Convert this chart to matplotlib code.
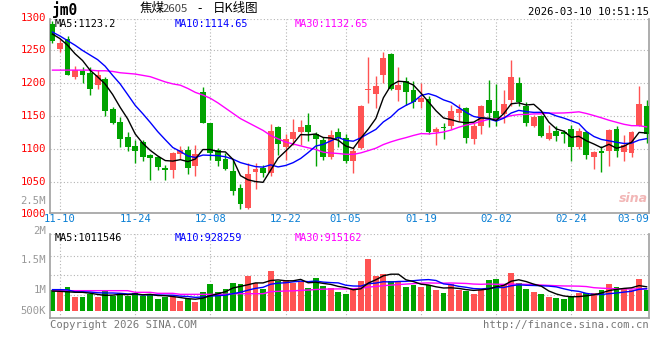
import numpy as np
import pandas as pd
import matplotlib
matplotlib.use("Agg")
import matplotlib.pyplot as plt
import matplotlib.transforms as mtransforms

# Candle data, 2025-11-07 .. 2026-03-10
opens = [1290, 1252, 1268, 1210, 1218, 1216, 1197, 1207, 1160, 1141,
         1118, 1104, 1111, 1091, 1087, 1071, 1067, 1092, 1098, 1074,
         1187, 1139, 1098, 1085, 1066, 1040, 1010, 1065, 1071, 1063,
         1133, 1102, 1115, 1125, 1136, 1123, 1113, 1088, 1125, 1117,
         1081, 1101, 1189, 1184, 1213, 1245, 1190, 1203, 1189, 1172,
         1176, 1125, 1133, 1135, 1155, 1162, 1115, 1134, 1175, 1157,
         1153, 1175, 1201, 1165, 1135, 1150, 1115, 1127, 1125, 1130,
         1103, 1125, 1087, 1097, 1097, 1130, 1095, 1094, 1135, 1166]
highs = [1295, 1268, 1272, 1227, 1225, 1225, 1220, 1209, 1163, 1149,
         1125, 1114, 1113, 1092, 1089, 1075, 1095, 1104, 1104, 1106,
         1195, 1140, 1101, 1093, 1083, 1047, 1078, 1078, 1076, 1138,
         1135, 1123, 1146, 1144, 1154, 1125, 1118, 1129, 1131, 1123,
         1102, 1167, 1240, 1211, 1247, 1246, 1224, 1210, 1203, 1201,
         1180, 1133, 1139, 1167, 1168, 1163, 1139, 1167, 1205, 1199,
         1189, 1235, 1209, 1172, 1152, 1152, 1137, 1135, 1129, 1137,
         1131, 1127, 1096, 1104, 1130, 1134, 1121, 1127, 1196, 1175]
lows = [1262, 1247, 1212, 1207, 1200, 1182, 1191, 1150, 1138, 1103,
        1096, 1078, 1082, 1053, 1068, 1052, 1056, 1085, 1062, 1058,
        1139, 1083, 1073, 1067, 1029, 1008, 1008, 1038, 1057, 1058,
        1091, 1083, 1105, 1106, 1112, 1073, 1083, 1085, 1103, 1079,
        1063, 1099, 1170, 1162, 1200, 1190, 1173, 1167, 1162, 1162,
        1122, 1106, 1115, 1130, 1142, 1109, 1107, 1123, 1133, 1135,
        1139, 1165, 1165, 1135, 1133, 1118, 1114, 1112, 1109, 1082,
        1099, 1084, 1069, 1064, 1074, 1088, 1082, 1087, 1134, 1109]
closes = [1265, 1262, 1213, 1220, 1213, 1191, 1212, 1158, 1140, 1115,
          1103, 1097, 1087, 1086, 1072, 1068, 1093, 1098, 1071, 1092,
          1140, 1093, 1082, 1069, 1035, 1016, 1061, 1069, 1063, 1127,
          1108, 1115, 1125, 1133, 1125, 1115, 1088, 1121, 1116, 1081,
          1097, 1166, 1191, 1196, 1239, 1191, 1198, 1187, 1171, 1177,
          1125, 1130, 1132, 1158, 1161, 1117, 1135, 1165, 1155, 1144,
          1169, 1210, 1172, 1139, 1149, 1119, 1124, 1120, 1122, 1102,
          1127, 1090, 1095, 1094, 1128, 1097, 1106, 1125, 1169, 1123]
volumes = [0.875, 0.847, 1.0, 0.583, 0.583, 0.694, 0.583, 0.819, 0.625, 0.75,
           0.625, 0.75, 0.625, 0.722, 0.5, 0.583, 0.583, 0.417, 0.486, 0.389,
           0.792, 1.125, 0.792, 0.917, 1.167, 1.125, 1.472, 1.167, 0.917, 1.667,
           1.25, 1.292, 1.167, 1.208, 0.958, 1.375, 1.042, 0.958, 0.792, 0.708,
           0.917, 1.25, 2.167, 1.458, 1.542, 1.25, 1.25, 1.0, 1.083, 1.0,
           1.083, 0.875, 0.75, 1.125, 0.875, 0.833, 0.708, 0.875, 1.292, 1.333,
           1.125, 1.583, 1.167, 0.917, 0.792, 0.708, 0.583, 0.542, 0.5, 0.625,
           0.75, 0.75, 0.75, 0.875, 1.125, 1.0, 0.958, 0.875, 1.333, 0.875]
volumes = [v * 1e6 for v in volumes]

ma5_head = [1275, 1268, 1258, 1245]
ma10_head = [1278, 1272, 1265, 1258, 1250, 1243, 1236, 1226, 1212]
ma30_head = [1220, 1220, 1220, 1220, 1220, 1220, 1219, 1219, 1218, 1216,
             1215, 1214, 1212, 1210, 1206, 1202, 1199, 1197, 1192, 1186,
             1182, 1177, 1170, 1162, 1154, 1146, 1140, 1134, 1128]
vma5_head = [0.83e6, 0.82e6, 0.80e6, 0.78e6]
vma10_head = [0.89e6, 0.89e6, 0.88e6, 0.80e6, 0.80e6, 0.79e6, 0.76e6, 0.75e6, 0.75e6]
vma30_head = [0.847e6] * 11 + [0.778e6] * 3 + [0.736e6] * 3 + [0.694e6] * 7 + [0.72e6] * 5

# values printed in the legends
price_ma_text = ["1123.2", "1114.65", "1132.65"]
volume_ma_text = ["1011546", "928259", "915162"]

tick_idx = [1, 11, 21, 31, 39, 49, 59, 69, 78]
tick_labels = ["11-10", "11-24", "12-08", "12-22", "01-05", "01-19", "02-02", "02-24", "03-09"]
price_labels = [1300, 1250, 1200, 1150, 1100, 1050, 1000]


def moving(values, n, head):
    out = pd.Series(values).rolling(n).mean().to_numpy()
    out[:len(head)] = head
    return out


RED = "#ff5353"
GREEN = "#00a300"
GRID = "#b4b4b4"
FRAME = "#a0a0a0"
MONO = "DejaVu Sans Mono"
CJK = ["Noto Sans CJK SC", "DejaVu Sans"]
MA_COLORS = ["black", "#0000ff", "#ff00ff"]

x = np.arange(len(closes))
o = np.array(opens, float)
c = np.array(closes, float)
colors = [RED if cc >= oo else GREEN for oo, cc in zip(o, c)]

fig = plt.figure(figsize=(6.6, 3.6), dpi=100)
fig.patch.set_facecolor("white")


def px(xp, yp):
    return xp / 660, 1 - yp / 360


ax = fig.add_axes([50 / 660, 1 - 213 / 360, 599 / 660, 194 / 360])
vax = fig.add_axes([50 / 660, 1 - 318 / 360, 599 / 660, 84 / 360])

xlim = (-0.33, 79.32)
for a in (ax, vax):
    a.set_xlim(*xlim)
    a.set_xticks([])
    a.set_yticks([])
    for side in ("left", "bottom", "right"):
        a.spines[side].set_color(FRAME)
        a.spines[side].set_linewidth(1.2)
    a.spines["top"].set_visible(False)
    for t in tick_idx[:-1]:
        a.axvline(t, color=GRID, lw=0.8, ls=(0, (1, 2)), zorder=0)

# ---- price panel ----
ax.set_ylim(1002, 1298)
for p in [1050, 1100, 1150, 1200, 1250]:
    ax.axhline(p, color=GRID, lw=0.8, ls=(0, (1, 2)), zorder=0)
ax.plot(xlim, [1298, 1298], color=GRID, lw=0.8, ls=(0, (1, 2)), zorder=0)

body_lo = np.minimum(o, c)
body_h = np.maximum(np.abs(c - o), 1.2)
ax.vlines(x, lows, highs, colors=colors, lw=1.0, zorder=2)
ax.bar(x, body_h, bottom=body_lo, width=0.78, color=colors, zorder=3, linewidth=0)

ma5 = moving(closes, 5, ma5_head)
ma10 = moving(closes, 10, ma10_head)
ma30 = moving(closes, 30, ma30_head)
ax.plot(x, ma30, color=MA_COLORS[2], lw=1.0, zorder=4)
ax.plot(x, ma10, color=MA_COLORS[1], lw=1.0, zorder=4)
ax.plot(x, ma5, color=MA_COLORS[0], lw=1.0, zorder=4)

ytrans = ax.get_yaxis_transform()
for p in price_labels:
    ax.text(-0.007, p, str(p), transform=ytrans, ha="right", va="center",
            color="#ff0000", fontsize=7.6, family=MONO, clip_on=False)

xtrans = mtransforms.blended_transform_factory(ax.transData, ax.transAxes)
for t, lab in zip(tick_idx, tick_labels):
    if t == tick_idx[-1]:
        ax.text(xlim[1], -0.032, lab, transform=xtrans, ha="right", va="center",
                color="#0a7fd4", fontsize=7.6, family=MONO, clip_on=False)
    else:
        ax.text(t, -0.032, lab, transform=xtrans, ha="center", va="center",
                color="#0a7fd4", fontsize=7.6, family=MONO, clip_on=False)

# ---- volume panel ----
vax.set_ylim(-0.292e6, 3.208e6)
for f in (0.27, 0.506, 0.742):
    vax.axhline(-0.292e6 + f * 3.5e6, color=GRID, lw=0.8, ls=(0, (1, 2)), zorder=0)
vax.plot(xlim, [3.208e6, 3.208e6], color=GRID, lw=0.8, ls=(0, (1, 2)), zorder=0)
vax.bar(x, volumes, width=0.78, color=colors, zorder=2, linewidth=0)
vma5 = moving(volumes, 5, vma5_head)
vma10 = moving(volumes, 10, vma10_head)
vma30 = moving(volumes, 30, vma30_head)
vax.plot(x, vma30, color=MA_COLORS[2], lw=1.0, zorder=4)
vax.plot(x, vma10, color=MA_COLORS[1], lw=1.0, zorder=4)
vax.plot(x, vma5, color=MA_COLORS[0], lw=1.0, zorder=4)

for lab, yp in [("2.5M", 201), ("2M", 231), ("1.5M", 260), ("1M", 290), ("500K", 311)]:
    fig.text(*px(46, yp), lab, ha="right", va="center", color="#999999",
             fontsize=7.6, family=MONO)

# ---- legends ----
for name, val, col, xp in zip(["MA5", "MA10", "MA30"], price_ma_text, MA_COLORS, [55, 175, 295]):
    fig.text(*px(xp, 24), f"{name}:{val}", ha="left", va="center", color=col,
             fontsize=7.4, family=MONO)
for name, val, col, xp in zip(["MA5", "MA10", "MA30"], volume_ma_text, MA_COLORS, [55, 175, 295]):
    fig.text(*px(xp, 238), f"{name}:{val}", ha="left", va="center", color=col,
             fontsize=7.4, family=MONO)

# ---- header / footer ----
fig.text(*px(52, 10), "jm0", ha="left", va="center", color="black", fontsize=10.5,
         family=MONO, fontweight="bold")
fig.text(*px(140, 8.5), "焦煤", ha="left", va="center", color="black", fontsize=9, family=CJK)
fig.text(*px(163, 9), "2605", ha="left", va="center", color="#444444", fontsize=8.2, family=CJK)
fig.text(*px(200, 8.5), "-", ha="center", va="center", color="black", fontsize=9, family=CJK)
fig.text(*px(213, 8.5), "日K线图", ha="left", va="center", color="black", fontsize=9, family=CJK)
fig.text(*px(649, 12), "2026-03-10 10:51:15", ha="right", va="center", color="black",
         fontsize=7.6, family=MONO)
fig.text(*px(648, 199), "sina", ha="right", va="center", color="#f2b6b6", fontsize=9,
         fontweight="bold", style="italic", family="DejaVu Sans")
fig.text(*px(50, 325), "Copyright 2026 SINA.COM", ha="left", va="center", color="#777777",
         fontsize=7.6, family=MONO)
fig.text(*px(649, 325), "http://finance.sina.com.cn", ha="right", va="center", color="#777777",
         fontsize=7.6, family=MONO)

fig.savefig("out.png", dpi=100)
